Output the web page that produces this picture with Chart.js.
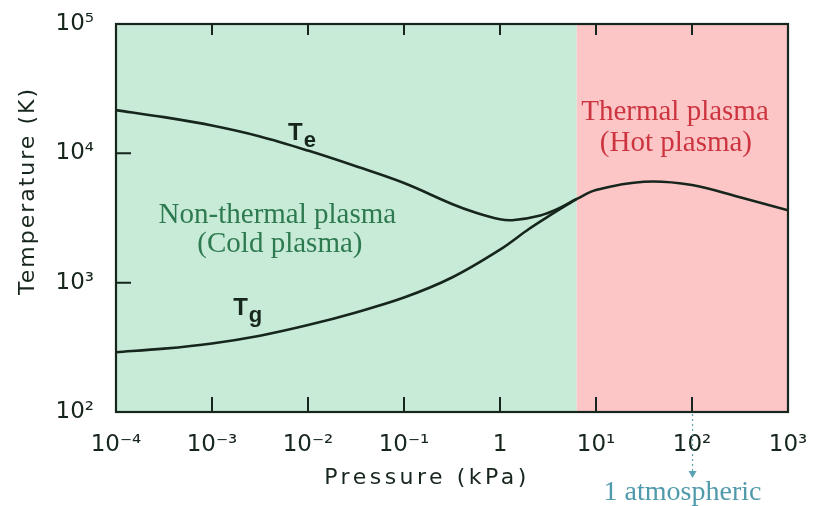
<!DOCTYPE html>
<html lang="en">
<head>
<meta charset="UTF-8">
<title>Plasma temperature vs pressure</title>
<script src="https://cdn.jsdelivr.net/npm/chart.js"></script>
<style>
  body { margin: 0; background: #fff; }
</style>
</head>
<body>
<canvas id="plasmaChart" width="814" height="506"></canvas>
<script>
// electron temperature Te (K) against pressure (kPa)
const tePressure = [0.0001, 0.000316, 0.001, 0.00316, 0.01, 0.0316, 0.1, 0.316, 0.562, 1, 1.41, 2.63, 3.98, 6.3, 10, 31.6, 100, 316, 1000];
const teTemp = [21600, 19050, 16400, 13500, 10500, 7940, 5890, 4060, 3470, 3090, 3050, 3310, 3720, 4440, 5200, 6030, 5690, 4570, 3630];
// gas temperature Tg
const tgPressure = [0.0001, 0.000316, 0.001, 0.00316, 0.01, 0.0316, 0.1, 0.316, 1, 2, 3.16, 6.3];
const tgTemp = [290, 309, 339, 389, 470, 589, 767, 1096, 1800, 2600, 3240, 4440];

// non-thermal | thermal regions
const regionEdges = [0.0001, 6.3, 1000];
const atmPressure = 101.3;

const xTickValues = [1e-4, 1e-3, 1e-2, 1e-1, 1, 10, 100, 1000];
const xTickLabels = ['10⁻⁴', '10⁻³', '10⁻²', '10⁻¹', '1', '10¹', '10²', '10³'];
const yTickValues = [1e2, 1e3, 1e4, 1e5];
const yTickLabels = ['10²', '10³', '10⁴', '10⁵'];

const ink = '#17261c';
const tickFont = { family: 'DejaVu Sans', size: 23 };

const decor = {
    id: 'decor',
    beforeDatasetsDraw(chart) {
        const { ctx, chartArea: a, scales: { x } } = chart;
        const fills = ['#c8ebd8', '#fcc6c6'];
        ctx.save();
        for (let i = 0; i < regionEdges.length - 1; i++) {
            const x0 = x.getPixelForValue(regionEdges[i]);
            const x1 = x.getPixelForValue(regionEdges[i + 1]);
            ctx.fillStyle = fills[i];
            ctx.fillRect(x0, a.top, x1 - x0, a.bottom - a.top);
        }
        ctx.restore();
    },
    afterDraw(chart) {
        const { ctx, chartArea: a, scales: { x, y } } = chart;
        ctx.save();
        // frame
        ctx.strokeStyle = ink;
        ctx.lineWidth = 2.2;
        ctx.strokeRect(a.left, a.top, a.right - a.left, a.bottom - a.top);
        // inward tick marks
        ctx.lineWidth = 2;
        ctx.beginPath();
        xTickValues.slice(1, -1).forEach(v => {
            const px = x.getPixelForValue(v);
            ctx.moveTo(px, a.bottom); ctx.lineTo(px, a.bottom - 15);
            ctx.moveTo(px, a.top); ctx.lineTo(px, a.top + 11);
        });
        yTickValues.slice(1, -1).forEach(v => {
            const py = y.getPixelForValue(v);
            ctx.moveTo(a.left, py); ctx.lineTo(a.left + 15, py);
        });
        ctx.stroke();

        // axis titles
        ctx.fillStyle = ink;
        ctx.font = '22px "DejaVu Sans"';
        ctx.letterSpacing = '3.5px';
        ctx.textAlign = 'center';
        ctx.textBaseline = 'middle';
        ctx.fillText('Pressure (kPa)', a.left + 311, a.bottom + 66);
        ctx.letterSpacing = '2px';
        ctx.save();
        ctx.translate(28, a.top + 167);
        ctx.rotate(-Math.PI / 2);
        ctx.fillText('Temperature (K)', 0, 0);
        ctx.restore();
        ctx.letterSpacing = '0px';

        // curve labels
        const sub = (main, s, p, t) => {
            const px = x.getPixelForValue(p), py = y.getPixelForValue(t);
            ctx.textAlign = 'left';
            ctx.textBaseline = 'alphabetic';
            ctx.font = 'bold 24px "Liberation Sans"';
            ctx.fillText(main, px, py);
            const w = ctx.measureText(main).width;
            ctx.font = 'bold 22px "Liberation Sans"';
            ctx.fillText(s, px + w + 1, py + 7);
        };
        sub('T', 'e', 0.0062, 12700);
        sub('T', 'g', 0.00166, 561);

        // region labels
        const say = (txt, p, t, color) => {
            ctx.fillStyle = color;
            ctx.font = '29px "Liberation Serif"';
            ctx.textAlign = 'center';
            ctx.textBaseline = 'alphabetic';
            ctx.fillText(txt, x.getPixelForValue(p), y.getPixelForValue(t));
        };
        say('Non-thermal plasma', 0.0048, 2890, '#2e7a50');
        say('(Cold plasma)', 0.0051, 1730, '#2e7a50');
        say('Thermal plasma', 66.5, 18100, '#cc3540');
        say('(Hot plasma)', 68, 10400, '#cc3540');

        // 1 atmosphere marker
        const ax = x.getPixelForValue(atmPressure);
        ctx.strokeStyle = '#5aa3b3';
        ctx.fillStyle = '#5aa3b3';
        ctx.lineWidth = 1.2;
        ctx.setLineDash([2, 3]);
        ctx.beginPath();
        ctx.moveTo(ax, a.bottom + 2);
        ctx.lineTo(ax, a.bottom + 60);
        ctx.stroke();
        ctx.setLineDash([]);
        ctx.beginPath();
        ctx.moveTo(ax - 4, a.bottom + 59);
        ctx.lineTo(ax + 4, a.bottom + 59);
        ctx.lineTo(ax, a.bottom + 66);
        ctx.closePath();
        ctx.fill();
        ctx.fillStyle = '#4f9aab';
        ctx.font = '28px "Liberation Serif"';
        ctx.textAlign = 'center';
        ctx.fillText('1 atmospheric', ax - 10, a.bottom + 88);
        ctx.restore();
    }
};

const toPoints = (px, py) => px.map((p, i) => ({ x: p, y: py[i] }));

new Chart(document.getElementById('plasmaChart'), {
    type: 'scatter',
    data: {
        datasets: [
            {
                label: 'Te',
                data: toPoints(tePressure, teTemp),
                showLine: true,
                borderColor: ink,
                borderWidth: 2.6,
                pointRadius: 0,
                tension: 0.35
            },
            {
                label: 'Tg',
                data: toPoints(tgPressure, tgTemp),
                showLine: true,
                borderColor: ink,
                borderWidth: 2.6,
                pointRadius: 0,
                tension: 0.35
            }
        ]
    },
    options: {
        responsive: false,
        animation: false,
        layout: { padding: { top: 24, right: 26, left: 0, bottom: 0 } },
        plugins: {
            legend: { display: false },
            tooltip: { enabled: false }
        },
        scales: {
            x: {
                type: 'logarithmic',
                min: 1e-4,
                max: 1e3,
                afterBuildTicks: s => { s.ticks = xTickValues.map(v => ({ value: v })); },
                afterFit: s => { s.height = 94; s.paddingLeft = 0; s.paddingRight = 0; },
                grid: { display: false },
                border: { display: false },
                ticks: {
                    autoSkip: false,
                    maxRotation: 0,
                    padding: 11,
                    color: ink,
                    font: tickFont,
                    callback: (v, i) => xTickLabels[i]
                }
            },
            y: {
                type: 'logarithmic',
                min: 1e2,
                max: 1e5,
                afterBuildTicks: s => { s.ticks = yTickValues.map(v => ({ value: v })); },
                afterFit: s => { s.width = 116; s.paddingTop = 0; s.paddingBottom = 0; },
                grid: { display: false },
                border: { display: false },
                ticks: {
                    autoSkip: false,
                    padding: 14,
                    color: ink,
                    font: tickFont,
                    callback: (v, i) => yTickLabels[i]
                }
            }
        }
    },
    plugins: [decor]
});
</script>
</body>
</html>
